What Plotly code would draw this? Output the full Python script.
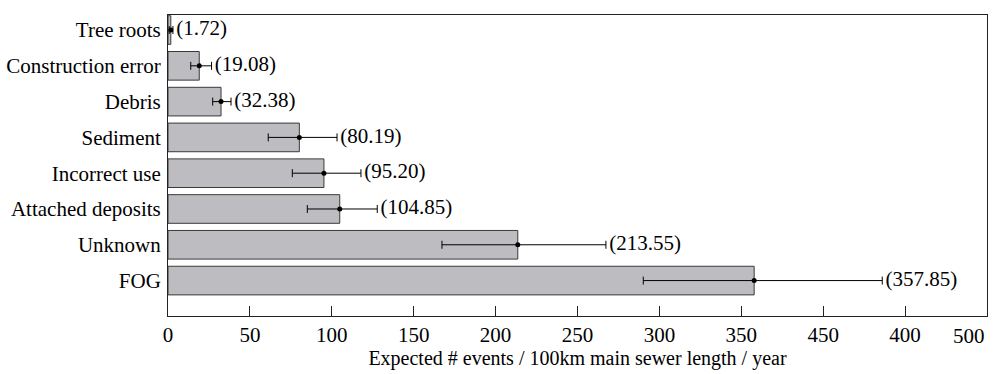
import plotly.graph_objects as go

categories = ["Tree roots", "Construction error", "Debris", "Sediment",
              "Incorrect use", "Attached deposits", "Unknown", "FOG"]
values = [1.72, 19.08, 32.38, 80.19, 95.20, 104.85, 213.55, 357.85]
err_minus = [1.0, 5.2, 5.1, 19.0, 19.3, 19.8, 46.3, 67.7]
err_plus = [1.3, 7.5, 6.1, 23.0, 22.6, 22.9, 53.8, 78.2]
labels = ["(1.72)", "(19.08)", "(32.38)", "(80.19)", "(95.20)", "(104.85)", "(213.55)", "(357.85)"]
tick_vals = [0, 50, 100, 150, 200, 250, 300, 350, 400, 450, 500]
tick_text = ["0", "50", "100", "150", "200", "250", "300", "350", "450", "400", "500"]

FONT = "Liberation Serif, Times New Roman, serif"

fig = go.Figure()
fig.add_trace(go.Bar(
    y=categories, x=values, orientation="h", width=0.8,
    marker=dict(color="#bdbdc1", line=dict(color="#3a3a3a", width=1)),
    showlegend=False, hoverinfo="skip",
))
fig.add_trace(go.Scatter(
    y=categories, x=values, mode="markers",
    marker=dict(color="black", size=5),
    error_x=dict(type="data", array=err_plus, arrayminus=err_minus,
                 color="black", thickness=1, width=4, visible=True),
    showlegend=False, hoverinfo="skip",
))
fig.add_trace(go.Scatter(
    y=categories, x=[v + p + 2 for v, p in zip(values, err_plus)], mode="text",
    text=labels, textposition="middle right",
    textfont=dict(family=FONT, size=21, color="black"),
    showlegend=False, hoverinfo="skip", cliponaxis=False,
))

# last tick label is pulled inside the page like in the reference
fig.add_annotation(
    x=tick_vals[-1], xref="x", y=0, yref="paper", yshift=-6,
    text=tick_text[-1], showarrow=False, xanchor="right", yanchor="top",
    font=dict(family=FONT, size=21, color="black"),
)

fig.update_layout(
    width=997, height=374,
    margin=dict(l=168, r=10, t=15, b=58),
    paper_bgcolor="white", plot_bgcolor="white",
    font=dict(family=FONT, size=21, color="black"),
)
fig.update_xaxes(
    range=[0, 500], tickvals=tick_vals[:-1], ticktext=tick_text[:-1],
    ticks="inside", ticklen=10, tickcolor="#222", tickwidth=1,
    showline=True, linecolor="#222", linewidth=1, mirror=True,
    showgrid=False, zeroline=False, automargin=False,
    title=dict(text="Expected # events / 100km main sewer length / year",
               standoff=2, font=dict(family=FONT, size=20)),
    tickfont=dict(family=FONT, size=21),
)
fig.update_yaxes(
    categoryorder="array", categoryarray=categories,
    range=[7.99, -0.42], automargin=False,
    showline=True, linecolor="#222", linewidth=1, mirror=True,
    showgrid=False, zeroline=False, ticks="", ticklabelstandoff=2,
    tickfont=dict(family=FONT, size=21),
)

fig.write_html("out.html",
               post_script="document.body.style.margin='0';document.body.style.overflow='hidden';",
               config={"displayModeBar": False})
